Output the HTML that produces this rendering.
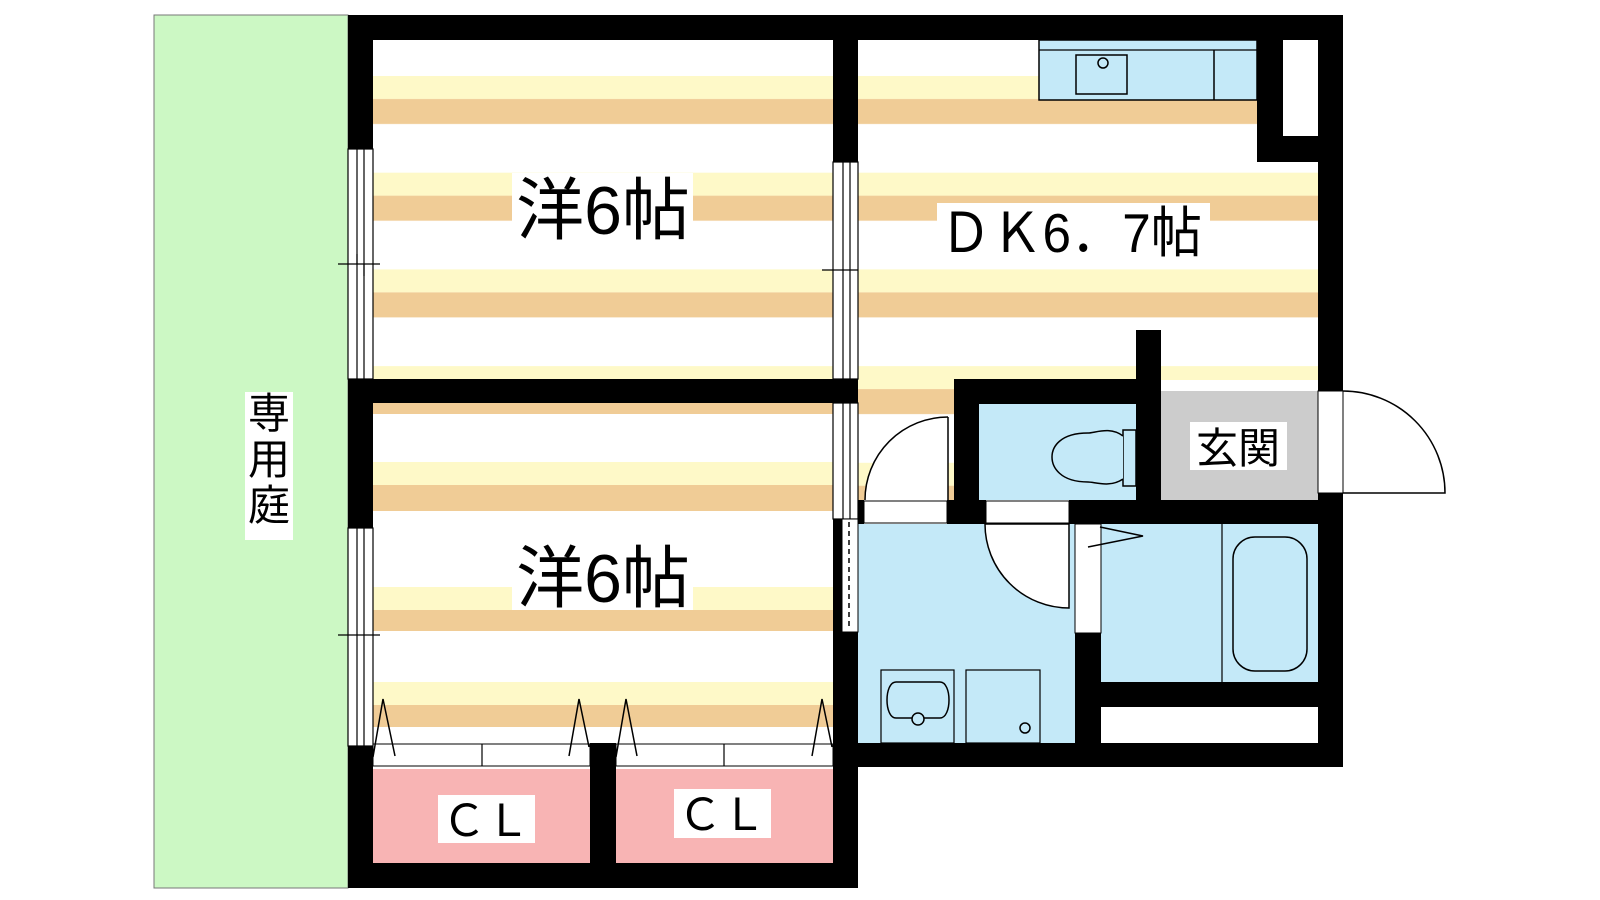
<!DOCTYPE html>
<html><head><meta charset="utf-8"><style>
html,body{margin:0;padding:0;background:#fff;}
svg{display:block;}
text{font-family:"Liberation Sans","Noto Sans CJK JP",sans-serif;}
</style></head><body>
<svg width="1600" height="900" viewBox="0 0 1600 900" xmlns="http://www.w3.org/2000/svg">
<defs>
<pattern id="st1" patternUnits="userSpaceOnUse" x="0" y="76" width="10" height="96.7">
<rect x="0" y="0" width="10" height="23" fill="#fef9c8"/>
<rect x="0" y="23" width="10" height="25" fill="#f0cc96"/>
</pattern>
</defs>
<!-- garden -->
<rect x="154" y="15" width="194" height="873" fill="#ccf8c4" stroke="#777" stroke-width="1"/>
<rect x="245" y="392" width="48" height="148" fill="#fff"/>
<text x="269" y="428" font-size="42" text-anchor="middle">専</text>
<text x="269" y="474" font-size="42" text-anchor="middle">用</text>
<text x="269" y="520" font-size="42" text-anchor="middle">庭</text>

<!-- room floors -->
<rect x="373" y="40" width="460" height="339" fill="url(#st1)"/>
<g>
<rect x="373" y="403" width="460" height="11" fill="#f0cc96"/>
<rect x="373" y="462" width="460" height="23" fill="#fef9c8"/>
<rect x="373" y="485" width="460" height="26" fill="#f0cc96"/>
<rect x="373" y="587" width="460" height="23" fill="#fef9c8"/>
<rect x="373" y="610" width="460" height="21" fill="#f0cc96"/>
<rect x="373" y="682" width="460" height="23" fill="#fef9c8"/>
<rect x="373" y="705" width="460" height="22" fill="#f0cc96"/>
</g>
<rect x="858" y="40" width="460" height="340" fill="url(#st1)"/>
<rect x="858" y="380" width="96" height="120" fill="url(#st1)"/>
<!-- DK door area white -->
<path d="M864,500 L948,500 L948,417 A83,83 0 0 0 865,500 Z" fill="#fff"/>
<!-- kitchen notch white -->
<rect x="1257" y="40" width="61" height="122" fill="#fff"/>
<!-- kitchen counter -->
<rect x="1039" y="40" width="218" height="60" fill="#c4e9f8" stroke="#000" stroke-width="1.5"/>
<line x1="1039" y1="50" x2="1257" y2="50" stroke="#000" stroke-width="1.2"/>
<line x1="1214" y1="50" x2="1214" y2="100" stroke="#000" stroke-width="1.5"/>
<rect x="1076" y="55" width="51" height="39" fill="none" stroke="#000" stroke-width="1.5"/>
<circle cx="1103" cy="63" r="5" fill="none" stroke="#000" stroke-width="1.5"/>

<!-- text labels rooms -->
<rect x="512" y="173" width="181" height="70" fill="#fff"/>
<text x="603" y="234" font-size="68" text-anchor="middle">洋6帖</text>
<rect x="512" y="541" width="181" height="69" fill="#fff"/>
<text x="603" y="602" font-size="68" text-anchor="middle">洋6帖</text>
<rect x="937" y="203" width="273" height="58" fill="#fff"/>
<text x="1071" y="252" font-size="55" text-anchor="middle" textLength="262" lengthAdjust="spacingAndGlyphs">ＤＫ6．7帖</text>

<!-- toilet -->
<rect x="979" y="404" width="157" height="96" fill="#c4e9f8"/>
<rect x="1123" y="430" width="13" height="56" fill="#c4e9f8" stroke="#000" stroke-width="1.5"/>
<path d="M1123,436 C1110,426 1095,433 1088,433 C1060,433 1052,447 1052,457 C1052,467 1060,482 1088,482 C1095,482 1110,488 1123,479" fill="#c4e9f8" stroke="#000" stroke-width="1.5"/>
<!-- genkan -->
<rect x="1161" y="391" width="157" height="109" fill="#cccccc"/>
<rect x="1190" y="422" width="97" height="48" fill="#fff"/>
<text x="1238" y="463" font-size="42" text-anchor="middle">玄関</text>
<!-- genkan door -->
<rect x="1318" y="391" width="25" height="102" fill="#fff" stroke="#000" stroke-width="1"/>
<path d="M1343,391 A102,102 0 0 1 1445,493 L1343,493" fill="none" stroke="#000" stroke-width="1.5"/>

<!-- washroom -->
<rect x="858" y="524" width="217" height="219" fill="#c4e9f8"/>
<path d="M985,524 A84,84 0 0 0 1069,608 L1069,524 Z" fill="#fff" stroke="#000" stroke-width="1.5"/>
<rect x="881" y="670" width="73" height="73" fill="#c4e9f8" stroke="#000" stroke-width="1.2"/>
<path d="M896,682 L940,682 C952,682 952,718 940,718 L896,718 C884,718 884,682 896,682 Z" fill="none" stroke="#000" stroke-width="1.5"/>
<circle cx="918" cy="719" r="6" fill="#c4e9f8" stroke="#000" stroke-width="1.5"/>
<rect x="966" y="670" width="74" height="73" fill="#c4e9f8" stroke="#000" stroke-width="1.2"/>
<circle cx="1025" cy="728" r="5" fill="none" stroke="#000" stroke-width="1.5"/>
<!-- bath -->
<rect x="1101" y="524" width="217" height="158" fill="#c4e9f8"/>
<line x1="1222" y1="524" x2="1222" y2="682" stroke="#000" stroke-width="1.2"/>
<rect x="1233" y="537" width="74" height="134" rx="22" fill="none" stroke="#000" stroke-width="1.5"/>
<rect x="1075" y="524" width="26" height="109" fill="#fff" stroke="#000" stroke-width="1"/>
<polyline points="1100,527 1143,536 1088,547" fill="none" stroke="#000" stroke-width="1.5"/>
<rect x="1101" y="707" width="217" height="36" fill="#fff"/>

<!-- DK door -->
<path d="M948,417 A83,83 0 0 0 865,500" fill="none" stroke="#000" stroke-width="1.5"/>
<line x1="948" y1="417" x2="948" y2="500" stroke="#000" stroke-width="1.5"/>
<rect x="864" y="501" width="83" height="22" fill="#fff" stroke="#000" stroke-width="1"/>
<rect x="986" y="501" width="83" height="22" fill="#fff" stroke="#000" stroke-width="1"/>

<!-- closets -->
<rect x="373" y="769" width="217" height="94" fill="#f8b4b4"/>
<rect x="616" y="769" width="217" height="94" fill="#f8b4b4"/>
<rect x="373" y="744" width="217" height="22" fill="#fff" stroke="#000" stroke-width="1"/>
<rect x="616" y="744" width="217" height="22" fill="#fff" stroke="#000" stroke-width="1"/>
<line x1="482" y1="744" x2="482" y2="766" stroke="#000" stroke-width="1.2"/>
<line x1="724" y1="744" x2="724" y2="766" stroke="#000" stroke-width="1.2"/>
<g fill="none" stroke="#000" stroke-width="1.5">
<polyline points="373,757 383,699 395,756"/>
<polyline points="569,756 579,699 589,747"/>
<polyline points="616,757 626,699 637,756"/>
<polyline points="812,756 822,699 832,747"/>
</g>
<rect x="438" y="795" width="97" height="48" fill="#fff"/>
<text x="486" y="836" font-size="44" text-anchor="middle">ＣＬ</text>
<rect x="674" y="789" width="97" height="49" fill="#fff"/>
<text x="722" y="830" font-size="44" text-anchor="middle">ＣＬ</text>

<!-- windows -->
<g stroke="#000" stroke-width="1.2" fill="#fff">
<rect x="348" y="149" width="25" height="230"/>
<rect x="348" y="528" width="25" height="218"/>
<rect x="833" y="162" width="25" height="217"/>
<rect x="833" y="403" width="25" height="116"/>
</g>
<g stroke="#000" stroke-width="1.2">
<line x1="357" y1="149" x2="357" y2="379"/><line x1="364" y1="149" x2="364" y2="379"/>
<line x1="338" y1="264" x2="380" y2="264"/><line x1="357" y1="254" x2="357" y2="264"/><line x1="364" y1="264" x2="364" y2="276"/>
<line x1="357" y1="528" x2="357" y2="746"/><line x1="364" y1="528" x2="364" y2="746"/>
<line x1="338" y1="635" x2="380" y2="635"/>
<line x1="843" y1="162" x2="843" y2="379"/><line x1="850" y1="162" x2="850" y2="379"/>
<line x1="822" y1="270" x2="858" y2="270"/>
<line x1="843" y1="403" x2="843" y2="519"/><line x1="850" y1="403" x2="850" y2="519"/>
</g>
<rect x="842" y="519" width="16" height="113" fill="#fff" stroke="#000" stroke-width="1"/>
<line x1="849" y1="522" x2="849" y2="630" stroke="#000" stroke-width="1.5" stroke-dasharray="5,4"/>

<!-- walls -->
<g fill="#000">
<rect x="348" y="15" width="995" height="25"/>
<rect x="348" y="15" width="25" height="134"/>
<rect x="348" y="379" width="25" height="149"/>
<rect x="348" y="746" width="25" height="142"/>
<rect x="348" y="863" width="510" height="25"/>
<rect x="590" y="743" width="26" height="145"/>
<rect x="833" y="632" width="25" height="256"/>
<rect x="833" y="519" width="9" height="113"/>
<rect x="833" y="15" width="25" height="147"/>
<rect x="348" y="379" width="510" height="24"/>
<rect x="1318" y="15" width="25" height="376"/>
<rect x="1318" y="493" width="25" height="274"/>
<rect x="1257" y="40" width="26" height="122"/>
<rect x="1257" y="136" width="61" height="26"/>
<rect x="833" y="743" width="510" height="24"/>
<rect x="954" y="379" width="182" height="25"/>
<rect x="954" y="379" width="25" height="145"/>
<rect x="1136" y="330" width="25" height="170"/>
<rect x="858" y="500" width="6" height="24"/>
<rect x="947" y="500" width="39" height="24"/>
<rect x="1069" y="500" width="249" height="24"/>
<rect x="1075" y="633" width="26" height="110"/>
<rect x="1101" y="682" width="217" height="25"/>
</g>
</svg>
</body></html>
